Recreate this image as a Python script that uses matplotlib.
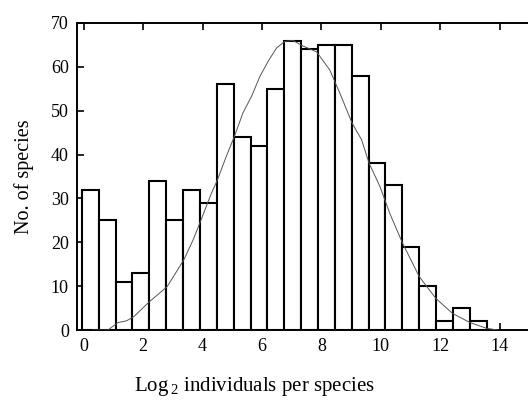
import numpy as np
import matplotlib
matplotlib.use("Agg")
import matplotlib.pyplot as plt

plt.rcParams['font.family'] = ['Liberation Serif', 'DejaVu Serif']
plt.rcParams['mathtext.fontset'] = 'custom'
plt.rcParams['mathtext.rm'] = 'Liberation Serif'

# histogram: 24 bins, first edge and bin width in log2 units
bin_start = -0.06
bin_width = 0.5675
counts = [32, 25, 11, 13, 34, 25, 32, 29, 56, 44, 42, 55,
          66, 64, 65, 65, 58, 38, 33, 19, 10, 2, 5, 2]

# fitted curve
curve_x = [0.31, 0.82, 1.15, 1.44, 1.68, 2.22, 2.81, 3.37, 3.68, 3.95, 4.30,
           4.50, 4.80, 5.07, 5.36, 5.65, 5.93, 6.21, 6.49, 6.77, 7.05, 7.33,
           7.84, 8.28, 8.62, 9.03, 9.35, 9.60, 9.97, 10.30, 10.73, 11.29,
           11.85, 12.41, 13.00, 13.56, 13.94]
curve_y = [0.0, 0.0, 1.7, 2.1, 3.0, 6.5, 9.9, 16.0, 20.5, 25.1, 31.2,
           34.2, 39.6, 44.1, 49.5, 53.3, 57.8, 61.3, 64.3, 65.8, 66.0, 64.9,
           63.4, 59.3, 54.0, 47.2, 43.4, 38.1, 32.7, 26.6, 19.8, 12.2,
           7.2, 3.8, 1.7, 0.4, 0.0]

fig = plt.figure(figsize=(5.28, 4.03), dpi=100)
ax = fig.add_axes([0.146, 0.181, 0.854, 0.762])

lefts = bin_start + bin_width * np.arange(len(counts))
ax.bar(lefts, counts, width=bin_width, align='edge', facecolor='white',
       edgecolor='black', linewidth=1.5, zorder=2)
ax.plot(curve_x, curve_y, color='#555555', linewidth=0.7, zorder=3)

ax.set_xlim(-0.22, 14.95)
ax.set_ylim(0, 70)
ax.set_xticks(range(0, 15, 2))
ax.set_yticks(range(0, 71, 10))
ax.tick_params(direction='in', length=5, width=1.2, labelsize=13,
               top=True, right=False, pad=6)
ax.spines['right'].set_visible(False)
for s in ['left', 'top', 'bottom']:
    ax.spines[s].set_linewidth(1.4)

ax.set_ylabel('No. of species', fontsize=14.5, labelpad=12)
ax.set_xlabel(r'Log$_{\,2}$ individuals per species', fontsize=15, labelpad=16)
ax.xaxis.set_label_coords(0.393, -0.145)

fig.savefig('out.png', dpi=100)
